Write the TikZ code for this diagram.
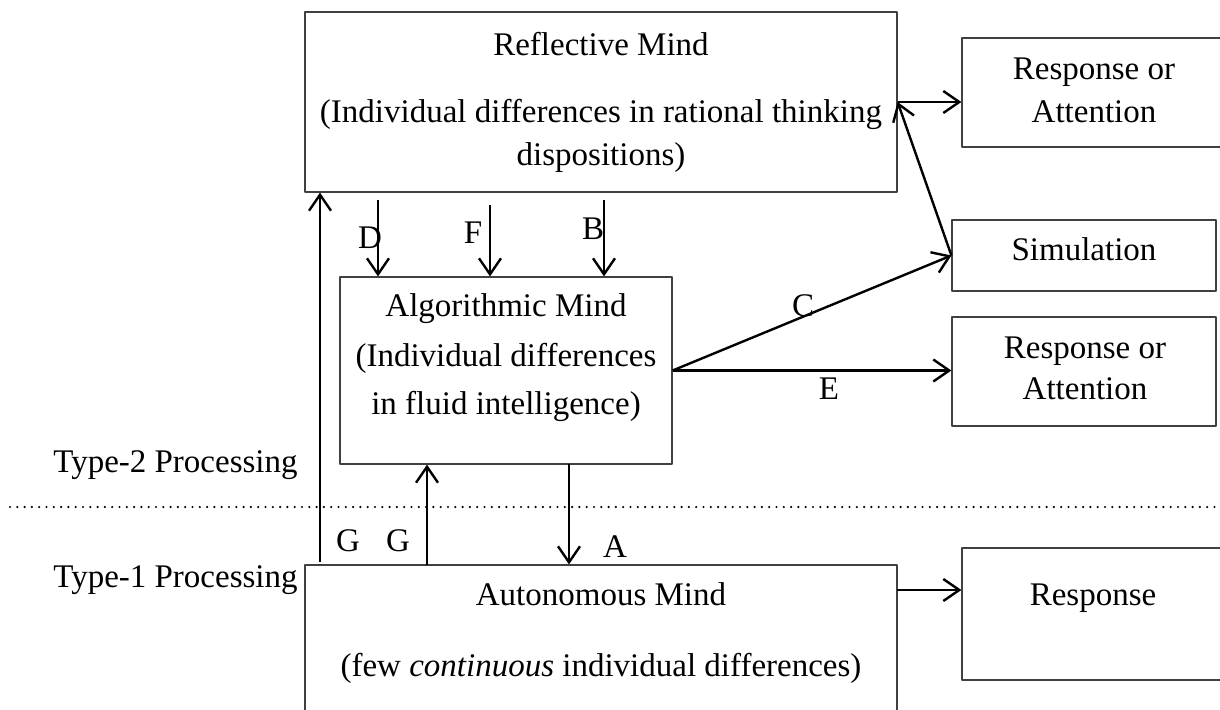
\documentclass[tikz,border=0pt]{standalone}
\usepackage{fontspec}
\setmainfont{Liberation Serif}
\usetikzlibrary{arrows.meta,positioning}
\begin{document}
\begin{tikzpicture}[x=0.5pt, y=-0.5pt, >={Straight Barb[length=8pt,width=11pt]}, line join=round,
    box/.style={draw=black!75, line width=0.6pt, inner sep=0pt},
    txt/.style={font=\fontsize{16.5}{20}\selectfont, inner sep=0pt, anchor=base},
    arr/.style={->, line width=1.2pt}]
    \useasboundingbox (0,0) rectangle (1220,709);
    \node[box, minimum width=296pt, minimum height=90pt] (refl) at (601,102) {};
    \node[box, minimum width=132pt, minimum height=54.5pt] (resp1) at (1094,92.5) {};
    \node[box, minimum width=132pt, minimum height=35.5pt] (sim) at (1084,255.5) {};
    \node[box, minimum width=132pt, minimum height=54.5pt] (resp2) at (1084,371.5) {};
    \node[box, minimum width=166pt, minimum height=93.5pt] (algo) at (506,370.5) {};
    \node[box, minimum width=296pt, minimum height=80pt] (auto) at (601,645) {};
    \node[box, minimum width=132pt, minimum height=66pt] (resp3) at (1094,614) {};

    \node[txt] (reflname) at (601,55) {Reflective Mind};
    \node[txt] (reflsub) at (601,122) {(Individual differences in rational thinking};
    \node[txt] (reflsubb) at (601,165) {dispositions)};
    \node[txt] (resp1a) at (1094,79) {Response or};
    \node[txt] (resp1b) at (1094,122) {Attention};
    \node[txt] (simname) at (1084,260) {Simulation};
    \node[txt] (resp2a) at (1085,358) {Response or};
    \node[txt] (resp2b) at (1085,399) {Attention};
    \node[txt] (algoname) at (506,316) {Algorithmic Mind};
    \node[txt] (algosub) at (506,366) {(Individual differences};
    \node[txt] (algosubb) at (506,414) {in fluid intelligence)};
    \node[txt] (autoname) at (601,605) {Autonomous Mind};
    \node[txt] (autosub) at (601,676) {(few \textit{continuous} individual differences)};
    \node[txt] (resp3a) at (1093,605) {Response};
    \node[txt, anchor=base east] (type2) at (298,472) {Type-2 Processing};
    \node[txt, anchor=base east] (type1) at (298,587) {Type-1 Processing};

    \coordinate (sepl) at (10,507);
    \coordinate (sepr) at (1215,507);
    \draw[line width=1.2pt, line cap=round, dash pattern=on 0pt off 3.65pt] (sepl) -- (sepr);

    \coordinate (d) at (378,200);
    \coordinate (f) at (490,205);
    \coordinate (b) at (604,200);
    \draw[arr] (d) -- (d |- algo.north);
    \draw[arr] (f) -- (f |- algo.north);
    \draw[arr] (b) -- (b |- algo.north);
    \node[txt] (dlbl) at (370,248) {D};
    \node[txt] (flbl) at (473,243) {F};
    \node[txt] (blbl) at (593,239) {B};

    \draw[arr] (algo.east) -- (sim.west);
    \draw[arr] (algo.east) -- (algo.east -| resp2.west);
    \node[txt] (clbl) at (803,316) {C};
    \node[txt] (elbl) at (829,399) {E};

    \draw[arr] (refl.east) -- (refl.east -| resp1.west);
    \draw[arr] (sim.west) -- (refl.east);

    \coordinate (g1) at (320,562);
    \coordinate (g2) at (427,565);
    \coordinate (a) at (569,464);
    \draw[arr] (g1) -- (g1 |- refl.south);
    \draw[arr] (g2) -- (g2 |- algo.south);
    \draw[arr] (a) -- (a |- auto.north);
    \node[txt] (g1lbl) at (348,551) {G};
    \node[txt] (g2lbl) at (398,551) {G};
    \node[txt] (albl) at (615,557) {A};

    \coordinate (ao) at (897,590);
    \draw[arr] (ao) -- (ao -| resp3.west);
\end{tikzpicture}
\end{document}
